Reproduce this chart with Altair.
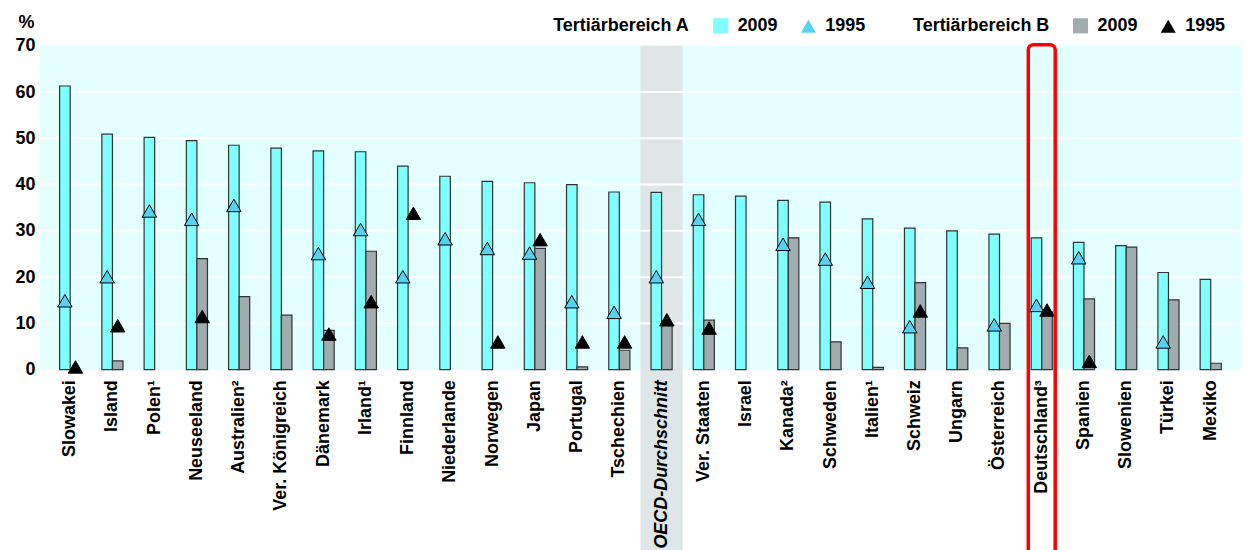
import altair as alt
import pandas as pd

countries = ["Slowakei", "Island", "Polen¹", "Neuseeland", "Australien²", "Ver. Königreich",
             "Dänemark", "Irland¹", "Finnland", "Niederlande", "Norwegen", "Japan", "Portugal",
             "Tschechien", "OECD-Durchschnitt", "Ver. Staaten", "Israel", "Kanada²", "Schweden",
             "Italien¹", "Schweiz", "Ungarn", "Österreich", "Deutschland³", "Spanien",
             "Slowenien", "Türkei", "Mexiko"]

a_2009 = [61.3, 50.9, 50.2, 49.5, 48.5, 47.9, 47.3, 47.1, 44.0, 41.8, 40.7, 40.4, 40.0, 38.4,
          38.3, 37.8, 37.5, 36.6, 36.2, 32.6, 30.6, 30.0, 29.3, 28.5, 27.5, 26.8, 21.0, 19.5]
a_1995 = [14.9, 20.1, 34.3, 32.5, 35.5, None, 25.1, 30.3, 20.1, 28.3, 26.2, 25.2, 14.7, 12.4,
          20.1, 32.5, None, 27.1, 23.9, 18.9, 9.3, None, 9.7, 13.9, 24.2, None, 6.0, None]
b_2009 = [None, 1.9, None, 24.0, 15.8, 11.8, 8.5, 25.6, None, None, None, 26.2, 0.6, 4.2,
          9.5, 10.7, None, 28.5, 6.0, 0.5, 18.8, 4.7, 10.0, 12.5, 15.3, 26.5, 15.1, 1.4]
b_1995 = [0.6, 9.5, None, 11.5, None, None, 7.7, 14.7, 33.8, None, 6.0, 28.1, 6.0, 6.0,
          10.8, 9.0, None, None, None, None, 12.7, None, None, 12.9, 1.8, None, None, None]

grid_values = [10, 20, 30, 40, 50, 60]
y_ticks = [0, 10, 20, 30, 40, 50, 60, 70]
tiers = ["A", "B"]
years = ["2009", "1995"]
highlight_band = ["OECD-Durchschnitt"]
highlight_box = ["Deutschland³"]

rows = []
for series, tier, year in [(a_2009, "A", "2009"), (a_1995, "A", "1995"),
                           (b_2009, "B", "2009"), (b_1995, "B", "1995")]:
    for c, v in zip(countries, series):
        if v is not None:
            rows.append({"country": c, "tier": tier, "year": year, "value": v})
df = pd.DataFrame(rows)
grid_df = pd.DataFrame({"value": grid_values})
band_df = pd.DataFrame({"country": highlight_band})
box_df = pd.DataFrame({"country": highlight_box})

FONT = "Liberation Sans"
W, H = 1205, 325
CYAN = "#80FFFF"
GREY = "#A0ACAE"
LBLUE = "#55D2F2"

xscale = alt.Scale(domain=countries, paddingInner=0, paddingOuter=0.217)
xoff_scale = alt.Scale(domain=tiers, paddingInner=0, paddingOuter=1)
yscale = alt.Scale(domain=[0, 70], nice=False)

x_axis = alt.Axis(title=None, labelAngle=270, labelFont=FONT, labelFontSize=18,
                  labelFontWeight="bold", labelColor="black", labelPadding=10,
                  labelLimit=0, domain=False, ticks=False, grid=False,
                  labelFontStyle=alt.condition("datum.value == 'OECD-Durchschnitt'",
                                               alt.value("italic"), alt.value("normal")))
y_axis = alt.Axis(title="%", titleAngle=0, titleX=-14, titleY=-14, titleAlign="center",
                  titleFont=FONT, titleFontSize=18, titleFontWeight="bold", titleColor="black",
                  values=y_ticks, labelFont=FONT, labelFontSize=18, labelFontWeight="bold",
                  labelColor="black", labelPadding=5, domain=False, ticks=False, grid=False)

X = alt.X("country:N", scale=xscale, axis=x_axis, sort=None)
Y = alt.Y("value:Q", scale=yscale, axis=y_axis)

band = alt.Chart(band_df).mark_rect(color="#DFE6E8").encode(
    x=X, y=alt.value(0), y2=alt.value(H + 200))

grid = alt.Chart(grid_df).mark_rule(color="white", strokeWidth=2).encode(y=Y)

def bars(tier, color):
    return alt.Chart(df).transform_filter(
        f"datum.tier == '{tier}' && datum.year == '2009'"
    ).mark_bar(color=color, stroke="#333333", strokeWidth=1.2).encode(
        x=X,
        xOffset=alt.XOffset("tier:N", scale=xoff_scale),
        y=Y,
    )

def points(tier, fill2009, fill1995, title, lx):
    leg = alt.Legend(title=title, orient="none", legendX=lx, legendY=-29, direction="horizontal",
                     titleOrient="left", titleFont=FONT, titleFontSize=18, titleFontWeight="bold",
                     titleColor="black", titlePadding=22, labelFont=FONT, labelFontSize=18,
                     labelFontWeight="bold", labelColor="black", labelOffset=8,
                     columnPadding=20, symbolSize=230, symbolStrokeColor="#333",
                     symbolStrokeWidth=1.2, symbolOpacity=1)
    return alt.Chart(df).transform_filter(
        f"datum.tier == '{tier}' && datum.year == '1995'"
    ).mark_point(filled=True, size=210, stroke="black", strokeWidth=1, opacity=1).encode(
        x=X,
        xOffset=alt.XOffset("tier:N", scale=xoff_scale),
        y=Y,
        fill=alt.Fill("year:N", scale=alt.Scale(domain=years, range=[fill2009, fill1995]), legend=leg),
        shape=alt.Shape("year:N", scale=alt.Scale(domain=years, range=["square", "triangle-up"]), legend=leg),
    )

box = alt.Chart(box_df).mark_bar(fillOpacity=0, stroke="#FF0000", strokeWidth=3.5,
                                 cornerRadius=5, size=27).encode(
    x=X, y=alt.value(-1), y2=alt.value(H + 220))

chart = alt.layer(
    band, grid, bars("A", CYAN), bars("B", GREY),
    points("A", CYAN, LBLUE, "Tertiärbereich A", 515),
    points("B", GREY, "black", "Tertiärbereich B", 876),
    box,
).resolve_scale(fill="independent", shape="independent").properties(
    width=W, height=H,
    autosize="none",
    padding={"left": 32, "top": 37, "right": 0, "bottom": 180},
).configure(background="white").configure_view(fill="#E3FFFF", strokeWidth=0)

chart.save("out.html", embed_options={"renderer": "svg", "actions": False})
